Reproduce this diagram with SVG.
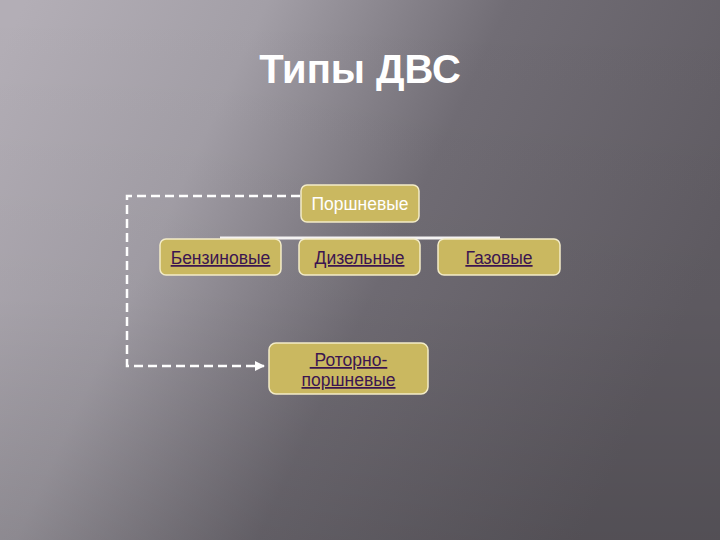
<svg xmlns="http://www.w3.org/2000/svg" width="720" height="540" viewBox="0 0 720 540">
  <defs>
    <linearGradient id="bg" x1="0" y1="0.1" x2="1" y2="0.45">
      <stop offset="0" stop-color="#b3aeb6"/>
      <stop offset="0.3" stop-color="#a39fa7"/>
      <stop offset="0.6" stop-color="#716d75"/>
      <stop offset="1" stop-color="#605c63"/>
    </linearGradient>
    <linearGradient id="shade" x1="0" y1="0" x2="0" y2="1">
      <stop offset="0" stop-color="#000" stop-opacity="0"/>
      <stop offset="0.55" stop-color="#000" stop-opacity="0.03"/>
      <stop offset="1" stop-color="#000" stop-opacity="0.14"/>
    </linearGradient>
    <marker id="arrow" viewBox="0 0 10 10" refX="9" refY="5" markerWidth="4" markerHeight="4" orient="auto" markerUnits="strokeWidth">
      <path d="M0,0 L10,5 L0,10 z" fill="#ffffff"/>
    </marker>
    <style>
      .box { fill: #cab860; stroke: #f3ecc8; stroke-width: 1.5; }
      .lbl { font-family: "Liberation Sans", Arial, sans-serif; font-size: 17.5px; text-anchor: middle; }
      .link { fill: #3b1550; text-decoration: underline; }
      .dash { fill: none; stroke: #ffffff; stroke-width: 2.5; stroke-dasharray: 9 5; }
    </style>
  </defs>
  <rect width="720" height="540" fill="url(#bg)"/>
  <rect width="720" height="540" fill="url(#shade)"/>

  <text x="360" y="83" font-family="Liberation Sans, Arial, sans-serif" font-size="40" font-weight="bold" fill="#ffffff" text-anchor="middle">Типы ДВС</text>

  <g id="connectors">
    <line x1="220" y1="238" x2="500" y2="238" stroke="#f4f2f2" stroke-width="3"/>
    <polyline class="dash" points="300,196 127,196 127,366 264,366" marker-end="url(#arrow)"/>
  </g>

  <g id="node-porshnevye">
    <rect class="box" x="301" y="185" width="118" height="37" rx="6"/>
    <text class="lbl" x="360" y="210" fill="#ffffff">Поршневые</text>
  </g>
  <g id="node-benzinovye">
    <rect class="box" x="160" y="239" width="121" height="36" rx="6"/>
    <text class="lbl link" x="220.5" y="264">Бензиновые</text>
  </g>
  <g id="node-dizelnye">
    <rect class="box" x="299" y="239" width="121" height="36" rx="6"/>
    <text class="lbl link" x="359.5" y="264">Дизельные</text>
  </g>
  <g id="node-gazovye">
    <rect class="box" x="438" y="239" width="122" height="36" rx="6"/>
    <text class="lbl link" x="499" y="264">Газовые</text>
  </g>
  <g id="node-rotorno">
    <rect class="box" x="269" y="343" width="159" height="51" rx="7"/>
    <text class="lbl link" x="348.5" y="366" font-size="18" xml:space="preserve"> Роторно-</text>
    <text class="lbl link" x="348.5" y="386" font-size="18">поршневые</text>
  </g>
</svg>
